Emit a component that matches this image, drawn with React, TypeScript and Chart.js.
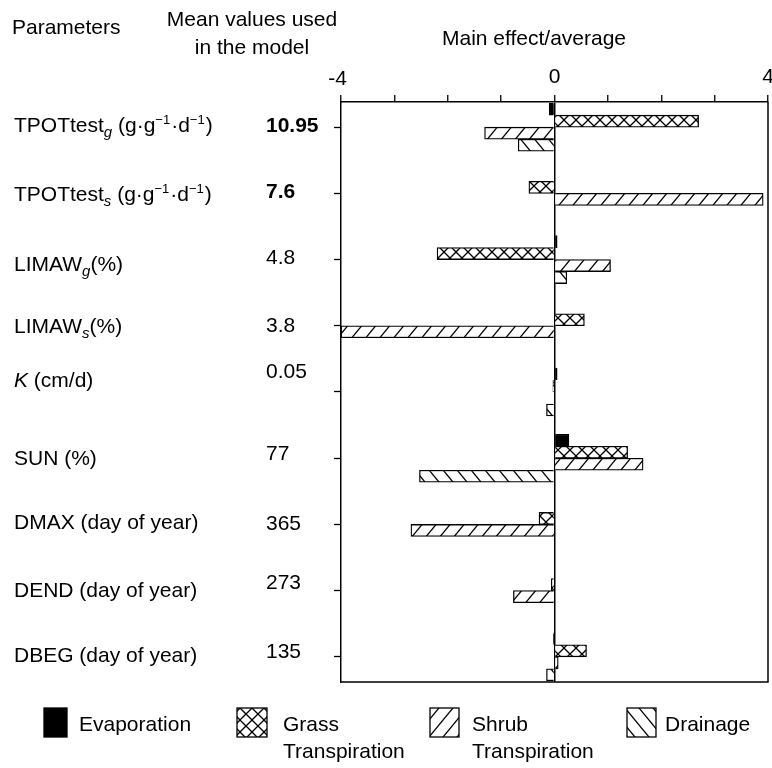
import React, { useEffect, useRef } from 'react';
import { Chart, registerables } from 'chart.js';

Chart.register(...registerables);

// ---------- data ----------
const PARAMETERS = [
  'TPOTtest_{g} (g·g^{−1}·d^{−1})',
  'TPOTtest_{s} (g·g^{−1}·d^{−1})',
  'LIMAW_{g}(%)',
  'LIMAW_{s}(%)',
  '*K* (cm/d)',
  'SUN (%)',
  'DMAX (day of year)',
  'DEND (day of year)',
  'DBEG (day of year)',
];
const MEAN_VALUES = ['10.95', '7.6', '4.8', '3.8', '0.05', '77', '365', '273', '135'];

const EVAPORATION = [-0.1, 0, 0.05, 0, 0.05, 0.27, 0, 0, -0.02];
const GRASS_TRANSPIRATION = [2.7, -0.48, -2.2, 0.56, -0.03, 1.37, -0.29, -0.06, 0.6];
const SHRUB_TRANSPIRATION = [-1.31, 3.91, 1.05, -4.0, 0, 1.66, -2.69, -0.77, 0.07];
const DRAINAGE = [-0.68, 0, 0.23, 0, -0.15, -2.53, 0, 0, -0.15];

const SERIES_NAMES = ['Evaporation', 'Grass\nTranspiration', 'Shrub\nTranspiration', 'Drainage'];

const X_TICKS = [-4, -3, -2, -1, 0, 1, 2, 3, 4];
const X_TICK_LABELS = ['-4', '', '', '', '0', '', '', '', '4'];

// ---------- layout / style ----------
const FONT = '"Liberation Sans", Arial, Helvetica, sans-serif';
const LABEL_DY = [5, 8, 11, 7, -5, 7, 5, 6, 5];
const VALUE_DY = [5, 5, 4, 6, -14, 2, 6, -2, 1];
const VALUE_BOLD = [true, true, false, false, false, false, false, false, false];
const LEGEND_ICON_X = [44, 237, 430, 627];
const LEGEND_ICON_W = [23, 30, 29, 29];
const LEGEND_TEXT_X = [79, 283, 472, 665];

type PatKind = 'cross' | 'fwd' | 'back';

function makePattern(kind: PatKind): CanvasPattern | string {
  const c = document.createElement('canvas');
  const w = kind === 'cross' ? 12 : 14;
  const h = kind === 'cross' ? 12 : 17;
  c.width = w;
  c.height = h;
  const g = c.getContext('2d');
  if (!g) return '#fff';
  g.fillStyle = '#fff';
  g.fillRect(0, 0, w, h);
  g.strokeStyle = '#000';
  g.lineWidth = 1.3;
  const line = (x1: number, y1: number, x2: number, y2: number) => {
    for (const dx of [-w, 0, w]) {
      for (const dy of [-h, 0, h]) {
        g.beginPath();
        g.moveTo(x1 + dx, y1 + dy);
        g.lineTo(x2 + dx, y2 + dy);
        g.stroke();
      }
    }
  };
  if (kind === 'cross') {
    line(0, 0, w, h);
    line(0, h, w, 0);
  } else if (kind === 'fwd') {
    line(0, h, w, 0);
  } else {
    line(0, 0, w, h);
  }
  return g.createPattern(c, 'repeat') || '#fff';
}

type Seg = { t: string; kind: 'n' | 'sub' | 'sup' | 'it' };
function parseRich(s: string): Seg[] {
  const segs: Seg[] = [];
  const re = /_\{([^}]*)\}|\^\{([^}]*)\}|\*([^*]*)\*|([^_^*]+)/g;
  let m: RegExpExecArray | null;
  while ((m = re.exec(s))) {
    if (m[1] !== undefined) segs.push({ t: m[1], kind: 'sub' });
    else if (m[2] !== undefined) segs.push({ t: m[2], kind: 'sup' });
    else if (m[3] !== undefined) segs.push({ t: m[3], kind: 'it' });
    else segs.push({ t: m[4], kind: 'n' });
  }
  return segs;
}

function drawRich(ctx: CanvasRenderingContext2D, s: string, x: number, y: number) {
  ctx.textAlign = 'left';
  ctx.textBaseline = 'alphabetic';
  let cx = x;
  for (const seg of parseRich(s)) {
    let dy = 0;
    if (seg.kind === 'sub') {
      ctx.font = `italic 15px ${FONT}`;
      dy = 5;
    } else if (seg.kind === 'sup') {
      ctx.font = `13px ${FONT}`;
      dy = -8;
    } else if (seg.kind === 'it') {
      ctx.font = `italic 21px ${FONT}`;
    } else {
      ctx.font = `21px ${FONT}`;
    }
    ctx.fillText(seg.t, cx, y + dy);
    cx += ctx.measureText(seg.t).width + (seg.kind === 'sup' ? 1 : 0);
  }
}

export default function App() {
  const ref = useRef<HTMLCanvasElement | null>(null);

  useEffect(() => {
    document.body.style.margin = '0';
    const canvas = ref.current;
    if (!canvas) return;

    const fills: (string | CanvasPattern)[] = [
      '#000',
      makePattern('cross'),
      makePattern('fwd'),
      makePattern('back'),
    ];
    const series = [EVAPORATION, GRASS_TRANSPIRATION, SHRUB_TRANSPIRATION, DRAINAGE];

    const annotate = {
      id: 'annotate',
      afterDraw(chart: any) {
        const { ctx, chartArea: a, scales } = chart;
        const xs = scales.x;
        const ys = scales.y;
        ctx.save();
        ctx.strokeStyle = '#000';
        ctx.lineWidth = 1.5;
        ctx.beginPath();
        ctx.moveTo(a.right, a.top);
        ctx.lineTo(a.right, a.bottom);
        ctx.lineTo(a.left, a.bottom);
        ctx.stroke();

        ctx.fillStyle = '#000';
        ctx.textBaseline = 'alphabetic';
        ctx.font = `21px ${FONT}`;
        ctx.textAlign = 'left';
        ctx.fillText('Parameters', 12, 34);
        ctx.textAlign = 'center';
        ctx.fillText('Mean values used', 252, 26);
        ctx.fillText('in the model', 252, 54);
        ctx.fillText('Main effect/average', 534, 45);

        X_TICKS.forEach((v, i) => {
          const lab = X_TICK_LABELS[i];
          if (!lab) return;
          const px = xs.getPixelForValue(v);
          if (lab.startsWith('-')) {
            const dw = ctx.measureText(lab.slice(1)).width;
            ctx.textAlign = 'right';
            ctx.fillText(lab, px + dw / 2, 85);
          } else {
            ctx.textAlign = 'center';
            ctx.fillText(lab, px, 83);
          }
        });

        PARAMETERS.forEach((p, i) => {
          const cy = ys.getPixelForValue(i);
          drawRich(ctx, p, 14, cy + LABEL_DY[i]);
          ctx.font = `${VALUE_BOLD[i] ? 'bold ' : ''}21px ${FONT}`;
          ctx.textAlign = 'left';
          ctx.fillText(MEAN_VALUES[i], 266, cy + VALUE_DY[i]);
        });

        // legend
        SERIES_NAMES.forEach((name, i) => {
          const ix = LEGEND_ICON_X[i];
          const iw = LEGEND_ICON_W[i];
          ctx.fillStyle = fills[i];
          ctx.fillRect(ix, 708, iw, 29);
          ctx.strokeStyle = '#000';
          ctx.lineWidth = 1.3;
          ctx.strokeRect(ix, 708, iw, 29);
          ctx.fillStyle = '#000';
          ctx.font = `21px ${FONT}`;
          ctx.textAlign = 'left';
          name.split('\n').forEach((ln, k) => {
            ctx.fillText(ln, LEGEND_TEXT_X[i], 731 + k * 27);
          });
        });
        ctx.restore();
      },
    };

    const chart = new Chart(canvas, {
      type: 'bar',
      data: {
        datasets: series.map((vals, si) => ({
          label: SERIES_NAMES[si].replace('\n', ' '),
          data: vals.map((v, i) => ({ x: v, y: i })),
          backgroundColor: fills[si] as any,
          borderColor: '#000',
          borderWidth: 1.3,
          barThickness: 12,
        })),
      },
      options: {
        indexAxis: 'y',
        responsive: false,
        animation: false,
        events: [],
        layout: { padding: { top: 0, left: 0, right: 4, bottom: 86 } },
        plugins: { legend: { display: false }, tooltip: { enabled: false } },
        scales: {
          x: {
            type: 'linear',
            position: 'top',
            min: -4,
            max: 4,
            offset: false,
            afterBuildTicks: (s: any) => {
              s.ticks = X_TICKS.map((v) => ({ value: v }));
            },
            afterFit: (s: any) => {
              s.height = 102;
            },
            ticks: { display: false },
            grid: {
              offset: false,
              drawOnChartArea: true,
              drawTicks: true,
              tickLength: 7,
              tickColor: '#000',
              tickWidth: 1.3,
              color: (c: any) => (c.tick && c.tick.value === 0 ? '#000' : 'rgba(0,0,0,0)'),
              lineWidth: 1.5,
            },
            border: { display: true, color: '#000', width: 1.5 },
          },
          y: {
            type: 'linear',
            position: 'left',
            reverse: true,
            offset: false,
            min: -0.38,
            max: 8.38,
            afterBuildTicks: (s: any) => {
              s.ticks = PARAMETERS.map((_, i) => ({ value: i }));
            },
            afterFit: (s: any) => {
              s.width = 341;
            },
            ticks: { display: false },
            grid: {
              offset: false,
              drawOnChartArea: false,
              drawTicks: true,
              tickLength: 7,
              tickColor: '#000',
              tickWidth: 1.3,
            },
            border: { display: true, color: '#000', width: 1.5 },
          },
        },
      },
      plugins: [annotate],
    } as any);

    return () => chart.destroy();
  }, []);

  return (
    <canvas
      ref={ref}
      width={772}
      height={768}
      style={{ display: 'block', width: 772, height: 768 }}
    />
  );
}
